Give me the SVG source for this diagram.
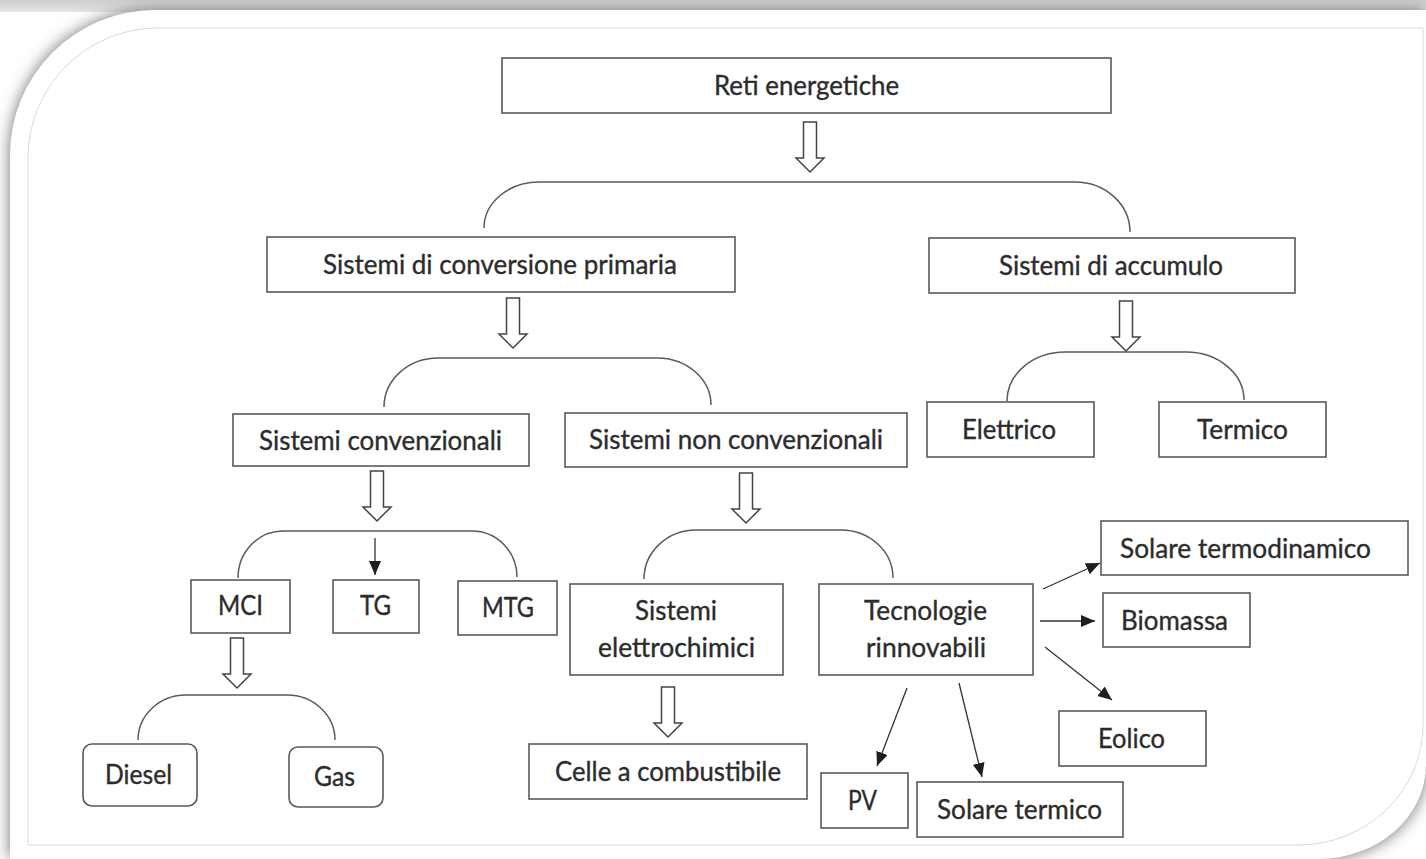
<svg xmlns="http://www.w3.org/2000/svg" xmlns:xlink="http://www.w3.org/1999/xlink" width="1426" height="859" viewBox="0 0 1426 859">
<defs>
<style>
.box{fill:none;stroke:#5a5a5a;stroke-width:1.6}
.t{font-family:Lato,"Liberation Sans",sans-serif;font-size:26px;fill:#2c2c2c;stroke:#2c2c2c;stroke-width:0.35;text-anchor:middle}
.br{fill:none;stroke:#5a5a5a;stroke-width:1.5}
.ha{fill:#fff;stroke:#444;stroke-width:1.5;stroke-linejoin:miter}
.sa{stroke:#333;stroke-width:1.3;fill:none;marker-end:url(#ah)}
</style>
<linearGradient id="topband" x1="0" y1="0" x2="0" y2="1"><stop offset="0" stop-color="#cfcfcf"/><stop offset="1" stop-color="#e4e4e4"/></linearGradient>
<filter id="sh" x="-5%" y="-5%" width="110%" height="110%"><feGaussianBlur stdDeviation="8"/></filter>
<marker id="ah" markerUnits="userSpaceOnUse" markerWidth="16" markerHeight="14" refX="14" refY="6" orient="auto"><path d="M0,0 L14,6 L0,12 Z" fill="#1e1e1e"/></marker>
<path id="hollow" d="M -6.5,0 H 6.5 V 36 H 14 L 0,50 L -14,36 H -6.5 Z"/>
</defs>
<rect x="0" y="0" width="1426" height="859" fill="#ffffff"/>
<rect x="0" y="0" width="1426" height="12" fill="url(#topband)"/>
<path d="M 10,859 V 155 A 145 145 0 0 1 155,10 H 1426 V 765 A 108 94 0 0 1 1318,859 Z" fill="#707070" filter="url(#sh)"/>
<path d="M 10,859 V 155 A 145 145 0 0 1 155,10 H 1426 V 765 A 108 94 0 0 1 1318,859 Z" fill="#ffffff"/>
<path d="M 28,845 V 158 A 130 130 0 0 1 158,28 H 1423 V 725 A 125 120 0 0 1 1298,845 Z" fill="none" stroke="#d9d9d9" stroke-width="1"/>

<g id="connectors">
<path class="br" d="M 484,228 A 55 46 0 0 1 539,182 H 1075 A 55 50 0 0 1 1130,232"/>
<path class="br" d="M 384,407 A 54 49 0 0 1 438,358 H 657 A 54 47 0 0 1 711,405"/>
<path class="br" d="M 1007,401 A 58 49 0 0 1 1065,352 H 1186 A 58 48 0 0 1 1244,400"/>
<path class="br" d="M 238,578 A 45 47 0 0 1 283,531 H 472 A 45 46 0 0 1 517,577"/>
<path class="br" d="M 644,579 A 52 49 0 0 1 696,530 H 841 A 52 48 0 0 1 893,578"/>
<path class="br" d="M 138,740 A 48 45 0 0 1 186,695 H 287 A 48 45 0 0 1 335,740"/>
<use xlink:href="#hollow" class="ha" x="810" y="122"/>
<use xlink:href="#hollow" class="ha" x="513" y="298"/>
<use xlink:href="#hollow" class="ha" x="1126" y="301"/>
<use xlink:href="#hollow" class="ha" x="377" y="471"/>
<use xlink:href="#hollow" class="ha" x="746" y="473"/>
<use xlink:href="#hollow" class="ha" x="237" y="638"/>
<use xlink:href="#hollow" class="ha" x="668" y="687"/>
<line class="sa" x1="375" y1="538" x2="375" y2="575"/>
<line class="sa" x1="1043" y1="589" x2="1100" y2="563"/>
<line class="sa" x1="1040" y1="621" x2="1095" y2="621"/>
<line class="sa" x1="1045" y1="647" x2="1112" y2="700"/>
<line class="sa" x1="907" y1="688" x2="877" y2="766"/>
<line class="sa" x1="959" y1="683" x2="982" y2="777"/>
</g>

<g id="n-reti"><rect class="box" x="502" y="58" width="609" height="55"/><text class="t" x="806.5" y="95" textLength="185" lengthAdjust="spacingAndGlyphs">Reti energetiche</text></g>
<g id="n-primaria"><rect class="box" x="267" y="237" width="468" height="55"/><text class="t" x="500" y="273.5" textLength="354" lengthAdjust="spacingAndGlyphs">Sistemi di conversione primaria</text></g>
<g id="n-accumulo"><rect class="box" x="929" y="238" width="366" height="55"/><text class="t" x="1111" y="274.5" textLength="224" lengthAdjust="spacingAndGlyphs">Sistemi di accumulo</text></g>
<g id="n-conv"><rect class="box" x="233" y="414" width="296" height="52"/><text class="t" x="380.5" y="449.5" textLength="243" lengthAdjust="spacingAndGlyphs">Sistemi convenzionali</text></g>
<g id="n-nonconv"><rect class="box" x="565" y="413" width="342" height="54"/><text class="t" x="736" y="449" textLength="294" lengthAdjust="spacingAndGlyphs">Sistemi non convenzionali</text></g>
<g id="n-elettrico"><rect class="box" x="927" y="402" width="167" height="55"/><text class="t" x="1009" y="438.5" textLength="94" lengthAdjust="spacingAndGlyphs">Elettrico</text></g>
<g id="n-termico"><rect class="box" x="1159" y="402" width="167" height="55"/><text class="t" x="1242.5" y="438.5" textLength="91" lengthAdjust="spacingAndGlyphs">Termico</text></g>
<g id="n-mci"><rect class="box" x="191" y="580" width="99" height="53"/><text class="t" x="240.5" y="614.5" textLength="45" lengthAdjust="spacingAndGlyphs">MCI</text></g>
<g id="n-tg"><rect class="box" x="333" y="580" width="86" height="53"/><text class="t" x="375.5" y="615" textLength="31" lengthAdjust="spacingAndGlyphs">TG</text></g>
<g id="n-mtg"><rect class="box" x="458" y="581" width="99" height="54"/><text class="t" x="508" y="617" textLength="52" lengthAdjust="spacingAndGlyphs">MTG</text></g>
<g id="n-elettrochimici"><rect class="box" x="570" y="584" width="213" height="91"/><text class="t" x="676" y="620" textLength="82" lengthAdjust="spacingAndGlyphs">Sistemi</text><text class="t" x="676.5" y="657" textLength="157" lengthAdjust="spacingAndGlyphs">elettrochimici</text></g>
<g id="n-rinnovabili"><rect class="box" x="819" y="584" width="214" height="91"/><text class="t" x="925.5" y="620" textLength="123" lengthAdjust="spacingAndGlyphs">Tecnologie</text><text class="t" x="926" y="657" textLength="120" lengthAdjust="spacingAndGlyphs">rinnovabili</text></g>
<g id="n-soltermodin"><rect class="box" x="1101" y="521" width="307" height="54"/><text class="t" x="1245.5" y="557.5" textLength="251" lengthAdjust="spacingAndGlyphs">Solare termodinamico</text></g>
<g id="n-biomassa"><rect class="box" x="1103" y="593" width="147" height="54"/><text class="t" x="1174.5" y="629.5" textLength="107" lengthAdjust="spacingAndGlyphs">Biomassa</text></g>
<g id="n-eolico"><rect class="box" x="1059" y="711" width="147" height="55"/><text class="t" x="1131.5" y="748" textLength="67" lengthAdjust="spacingAndGlyphs">Eolico</text></g>
<g id="n-diesel"><rect class="box" x="83" y="744" width="114" height="62" rx="9"/><text class="t" x="138.5" y="783.5" textLength="67" lengthAdjust="spacingAndGlyphs">Diesel</text></g>
<g id="n-gas"><rect class="box" x="289" y="747" width="94" height="60" rx="9"/><text class="t" x="334.5" y="786" textLength="41" lengthAdjust="spacingAndGlyphs">Gas</text></g>
<g id="n-celle"><rect class="box" x="529" y="744" width="278" height="55"/><text class="t" x="668" y="781" textLength="226" lengthAdjust="spacingAndGlyphs">Celle a combustibile</text></g>
<g id="n-pv"><rect class="box" x="821" y="773" width="87" height="55"/><text class="t" x="862.5" y="810" textLength="29" lengthAdjust="spacingAndGlyphs">PV</text></g>
<g id="n-solaretermico"><rect class="box" x="917" y="782" width="206" height="55"/><text class="t" x="1019.5" y="819" textLength="165" lengthAdjust="spacingAndGlyphs">Solare termico</text></g>
</svg>
